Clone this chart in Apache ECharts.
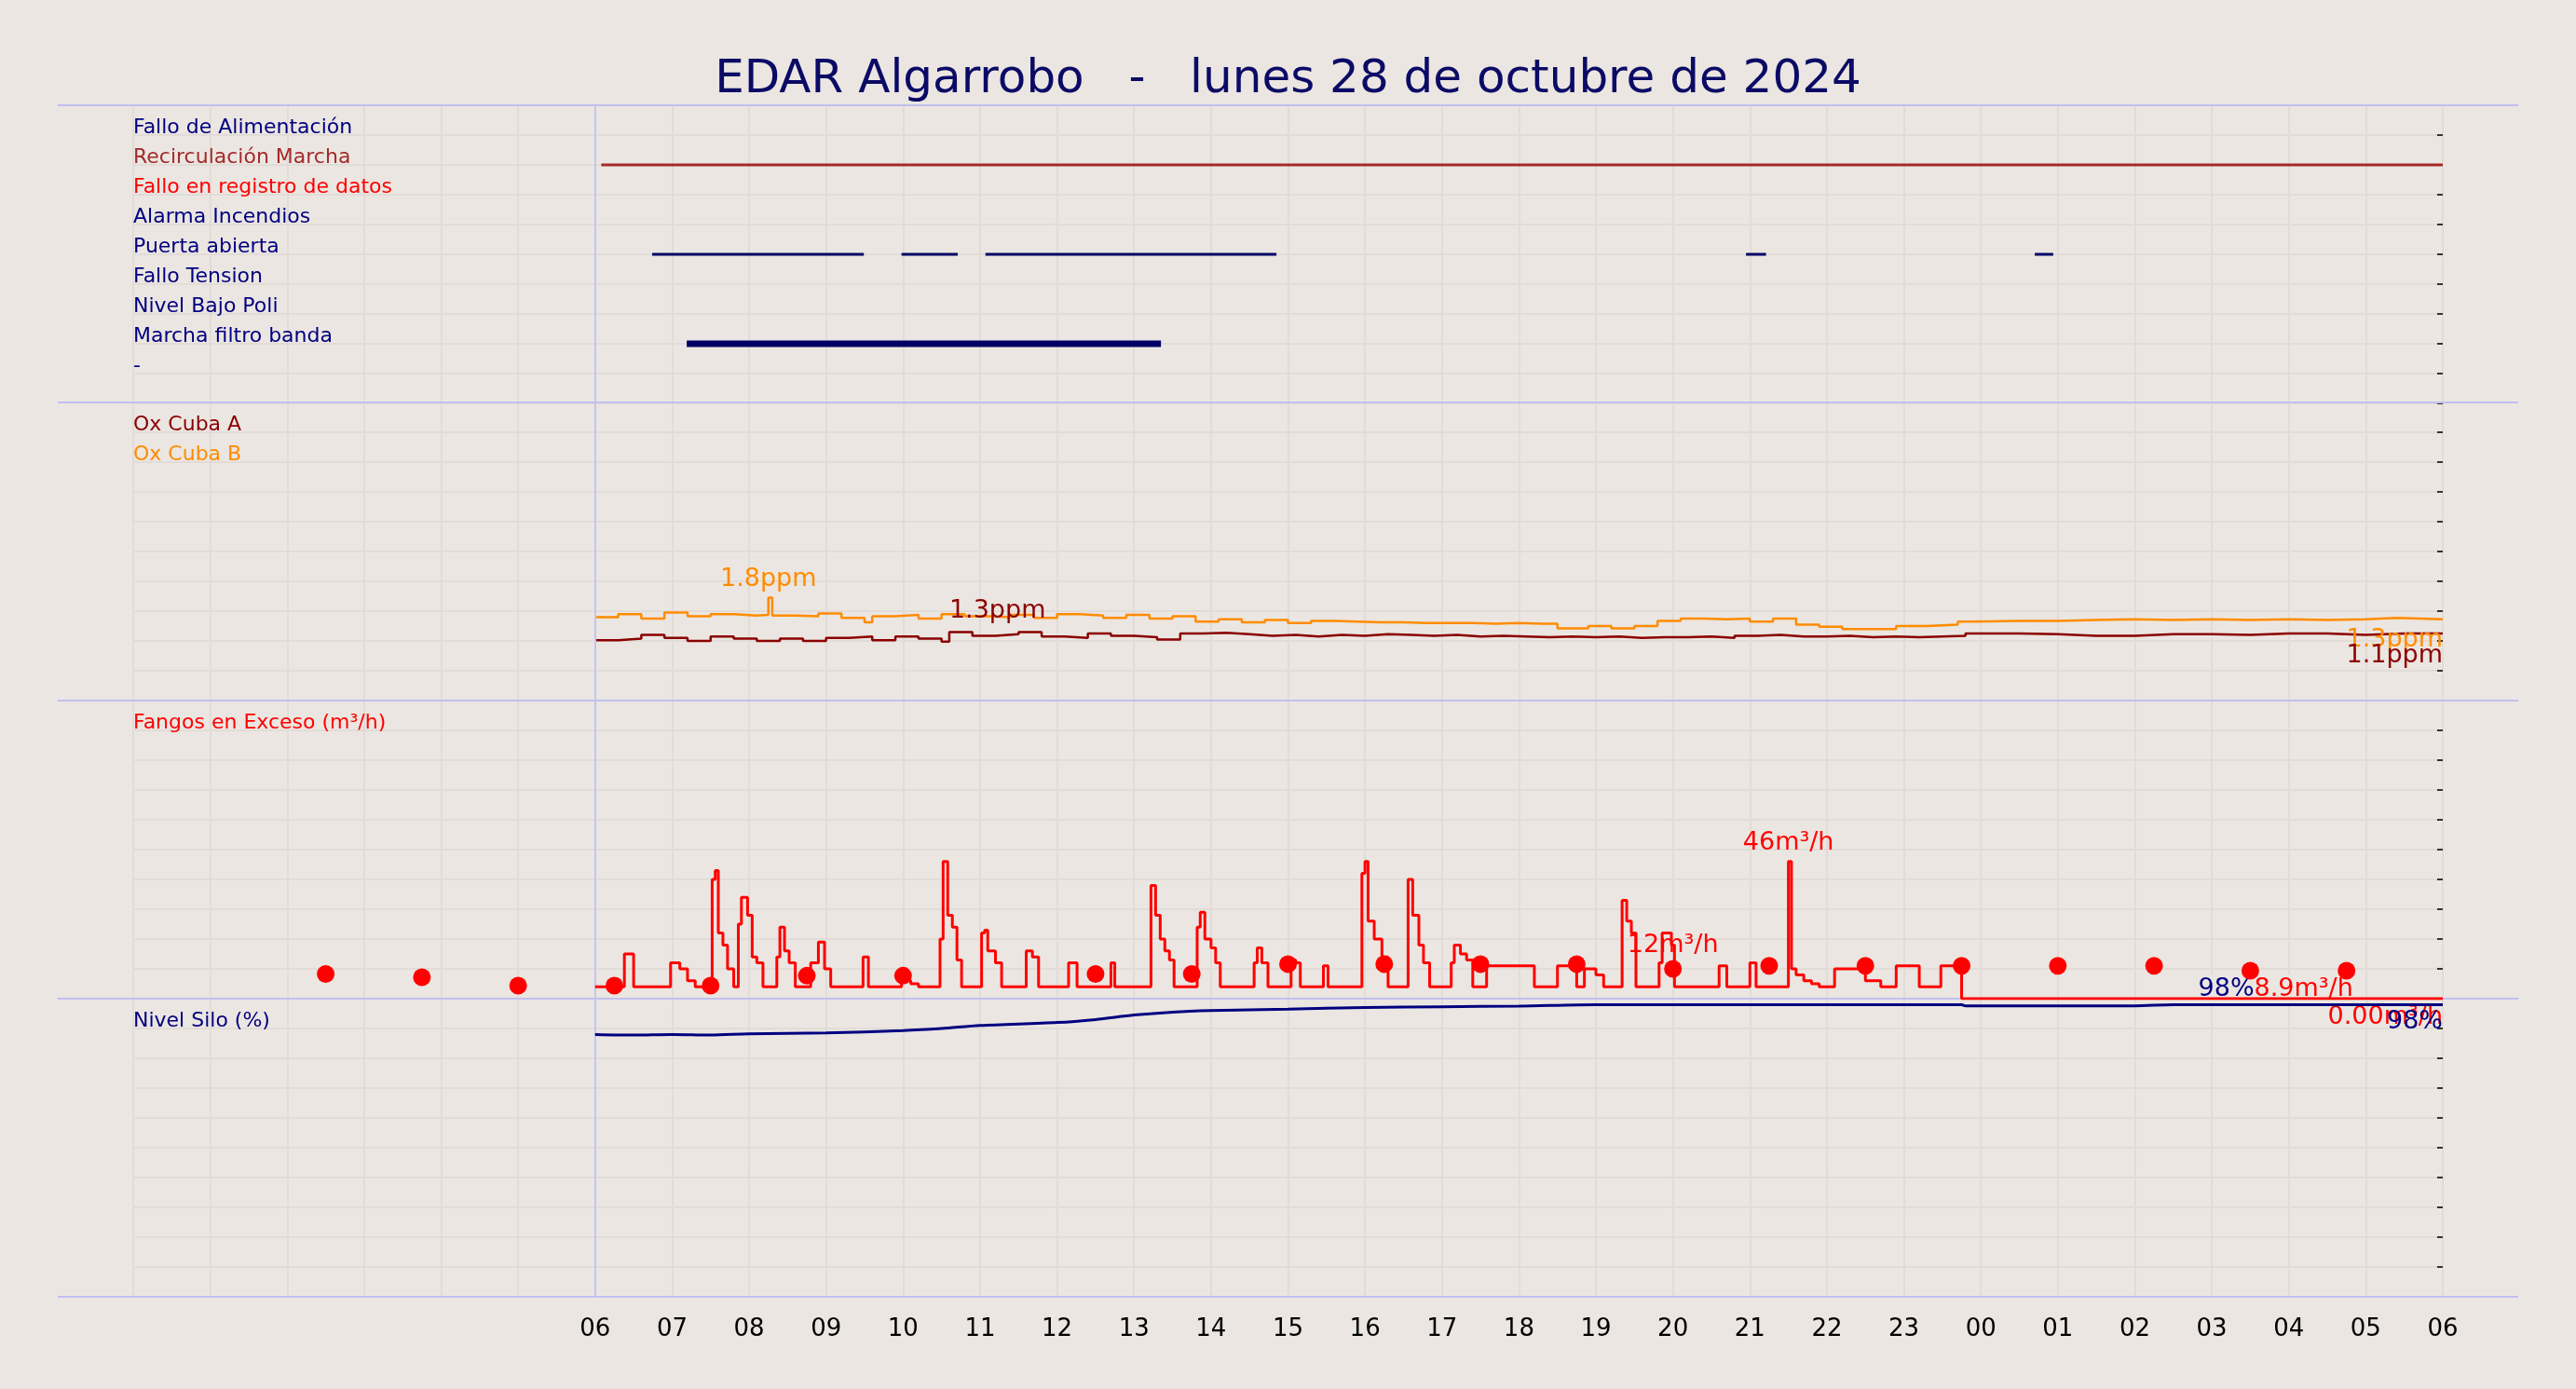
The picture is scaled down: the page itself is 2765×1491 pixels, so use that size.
<!DOCTYPE html>
<html><head><meta charset="utf-8">
<script src="https://cdn.jsdelivr.net/npm/echarts@6/dist/echarts.min.js"></script>
<style>html,body{margin:0;padding:0;background:#ebe6e1;}#c{width:2765px;height:1491px;}</style>
</head><body><div id="c"></div>
<script>
const title = 'EDAR Algarrobo   -   lunes 28 de octubre de 2024';
const signalNames = ['Fallo de Alimentación','Recirculación Marcha','Fallo en registro de datos','Alarma Incendios','Puerta abierta','Fallo Tension','Nivel Bajo Poli','Marcha filtro banda','-'];
const signalColors = ['#000080','#a52a2a','#ff0000','#000080','#000080','#000080','#000080','#000080','#000080'];
const recirculacion = [[6.08,30]];
const puertaAbierta = [[6.74,9.49],[9.98,10.71],[11.07,14.85],[20.95,21.21],[24.70,24.94]];
const filtroBanda = [[7.19,13.35]];

const oxB = [[6.0,1.32],[6.3,1.36],[6.6,1.30],[6.9,1.38],[7.2,1.33],[7.5,1.36],[7.8,1.34],[8.1,1.35],[8.25,1.58],[8.3,1.34],[8.6,1.33],[8.9,1.37],[9.2,1.31],[9.5,1.25],[9.6,1.33],[9.9,1.35],[10.2,1.30],[10.5,1.36],[10.8,1.33],[11.1,1.32],[11.4,1.35],[11.7,1.31],[12.0,1.36],[12.3,1.34],[12.6,1.31],[12.9,1.35],[13.2,1.30],[13.5,1.33],[13.8,1.26],[14.1,1.29],[14.4,1.25],[14.7,1.28],[15.0,1.24],[15.3,1.27],[15.6,1.26],[15.9,1.25],[16.2,1.25],[16.5,1.24],[16.8,1.24],[17.1,1.24],[17.4,1.23],[17.7,1.24],[18.0,1.23],[18.3,1.23],[18.5,1.17],[18.9,1.20],[19.2,1.17],[19.5,1.20],[19.8,1.27],[20.1,1.30],[20.4,1.29],[20.7,1.30],[21.0,1.26],[21.3,1.30],[21.6,1.22],[21.9,1.19],[22.2,1.16],[22.6,1.16],[22.9,1.20],[23.3,1.22],[23.7,1.26],[23.9,1.27],[24.5,1.27],[25.0,1.28],[25.5,1.29],[26.0,1.28],[26.5,1.29],[27.0,1.28],[27.5,1.29],[28.0,1.28],[28.5,1.29],[29.0,1.31],[29.4,1.29],[30,1.29]];
const oxA = [[6.0,1.01],[6.3,1.03],[6.6,1.08],[6.9,1.04],[7.2,1.00],[7.5,1.06],[7.8,1.03],[8.1,1.00],[8.4,1.03],[8.7,1.00],[9.0,1.04],[9.3,1.06],[9.6,1.01],[9.9,1.06],[10.2,1.03],[10.5,0.99],[10.6,1.12],[10.9,1.07],[11.2,1.09],[11.5,1.12],[11.8,1.06],[12.1,1.04],[12.4,1.10],[12.7,1.07],[13.0,1.05],[13.3,1.02],[13.6,1.10],[13.9,1.11],[14.2,1.09],[14.5,1.07],[14.8,1.08],[15.1,1.06],[15.4,1.08],[15.7,1.07],[16.0,1.09],[16.3,1.08],[16.6,1.07],[16.9,1.08],[17.2,1.06],[17.5,1.07],[17.8,1.06],[18.1,1.05],[18.4,1.06],[18.7,1.05],[19.0,1.06],[19.3,1.04],[19.6,1.05],[19.9,1.05],[20.2,1.06],[20.5,1.04],[20.8,1.07],[21.1,1.08],[21.4,1.06],[21.7,1.06],[22.0,1.07],[22.3,1.05],[22.6,1.06],[22.9,1.05],[23.2,1.06],[23.5,1.07],[23.8,1.10],[24.1,1.10],[24.5,1.09],[25.0,1.07],[25.5,1.07],[26.0,1.09],[26.5,1.09],[27.0,1.08],[27.5,1.10],[28.0,1.10],[28.5,1.08],[29.0,1.10],[29.5,1.10],[30,1.10]];

const fangos = [[6.0,4],[6.38,15],[6.5,4],[6.98,12],[7.1,10],[7.2,6],[7.3,4],[7.52,40],[7.56,43],[7.6,22],[7.66,18],[7.72,10],[7.8,4],[7.86,25],[7.9,34],[7.98,28],[8.04,14],[8.1,12],[8.18,4],[8.36,14],[8.4,24],[8.46,16],[8.52,12],[8.6,4],[8.8,12],[8.9,19],[8.98,10],[9.06,4],[9.48,14],[9.55,4],[9.98,10],[10.02,6],[10.1,5],[10.2,4],[10.48,20],[10.52,46],[10.58,28],[10.64,24],[10.7,13],[10.76,4],[11.02,22],[11.06,23],[11.1,16],[11.2,12],[11.28,4],[11.6,16],[11.68,14],[11.76,4],[12.15,12],[12.26,4],[12.7,12],[12.75,4],[13.22,38],[13.28,28],[13.34,20],[13.4,16],[13.46,13],[13.52,4],[13.82,24],[13.86,29],[13.92,20],[14.0,17],[14.06,12],[14.12,4],[14.56,12],[14.6,17],[14.66,12],[14.74,4],[15.04,13],[15.1,12],[15.16,4],[15.46,11],[15.52,4],[15.96,42],[16.0,46],[16.04,26],[16.12,20],[16.22,14],[16.3,4],[16.56,40],[16.62,28],[16.7,18],[16.76,12],[16.84,4],[17.12,12],[17.16,18],[17.24,15],[17.32,13],[17.4,4],[17.58,11],[18.2,4],[18.5,11],[18.75,4],[18.85,10],[19.0,8],[19.1,4],[19.34,33],[19.4,26],[19.46,22],[19.52,4],[19.82,12],[19.86,22],[19.98,18],[20.02,4],[20.6,11],[20.7,4],[21.0,12],[21.08,4],[21.5,46],[21.54,10],[21.6,8],[21.7,6],[21.8,5],[21.9,4],[22.1,10],[22.5,6],[22.7,4],[22.9,11],[23.2,4],[23.48,11],[23.72,9],[23.75,0],[30,0]];
const fangosAvg = [[2.5,8.3],[3.75,7.2],[5,4.4],[6.25,4.4],[7.5,4.4],[8.75,7.7],[10,7.7],[12.5,8.3],[13.75,8.3],[15,11.6],[16.25,11.6],[17.5,11.6],[18.75,11.6],[20,10],[21.25,11],[22.5,11],[23.75,11],[25,11],[26.25,11],[27.5,9.4],[28.75,9.4]];
const silo = [[6,88],[6.5,87.8],[7,88],[7.5,87.8],[8,88.2],[9,88.5],[10,89.3],[10.5,90],[11,91],[12,92],[12.5,93],[13,94.5],[13.5,95.5],[14,96],[15,96.5],[16,97],[17,97.3],[18,97.5],[19,98],[23.75,98],[23.8,97.6],[26,97.6],[26.5,98],[30,98]];
const panelLabels = [signalNames, ['Ox Cuba A','Ox Cuba B'], ['Fangos en Exceso (m³/h)'], ['Nivel Silo (%)']];
const panelLabelColors = [signalColors, ['#8b0000','#ff8c00'], ['#ff0000'], ['#000080']];
const yRanges = [[0,10,1],[0.2,4.2,0.4],[0,100,10],[0,100,10]];

const F = 'DejaVu Sans';
const tops = [113,432,752,1072];
const grid = tops.map(t => ({left:143, right:143, top:t, height:320}));
const gridLine = {show:true, lineStyle:{color:'#e2dcd9', width:2}};
const xAxis = tops.map((t,i) => ({type:'value', gridIndex:i, min:0, max:30, interval:1,
  axisLine:{show:false}, axisTick:{show:false}, splitLine:gridLine,
  axisLabel: i===3 ? {show:true, fontFamily:F, fontSize:26, color:'#000', margin:22,
     formatter: v => v>=6 ? String(v%24).padStart(2,'0') : ''} : {show:false}}));
const yAxis = [];
tops.forEach((t,i) => {
  const [mn,mx,iv] = yRanges[i];
  const names = panelLabels[i], cols = panelLabelColors[i];
  const rich = {}; names.forEach((n,k)=>{rich['c'+k]={color:cols[k], fontFamily:F, fontSize:22};});
  yAxis.push({type:'value', gridIndex:i, min:mn, max:mx, interval:iv, position:'left',
    axisLine:{show:false}, axisTick:{show:false}, splitLine:gridLine,
    axisLabel:{inside:true, margin:0, verticalAlign:'bottom', align:'left', padding:[0,0,-3,0], rich,
      formatter:(v,idx)=>{const k=9-idx; return (k>=0&&k<names.length)?('{c'+k+'|'+names[k]+'}'):'';}}});
  yAxis.push({type:'value', gridIndex:i, min:mn, max:mx, interval:iv, position:'right',
    axisLine:{show:false}, axisTick:{show:true, inside:true, length:6, lineStyle:{color:'#333',width:2}},
    axisLabel:{show:false}, splitLine:{show:false}});
});
const vLine = {silent:true, symbol:'none', label:{show:false}, lineStyle:{color:'#c4c4f2', width:2, type:'solid'}, data:[{xAxis:6}]};
const series = [];
recirculacion.forEach(s => series.push({type:'line', xAxisIndex:0, yAxisIndex:0, data:[[s[0],8],[s[1],8]], symbol:'none', lineStyle:{color:'#a52a2a', width:3}, markLine:vLine}));
puertaAbierta.forEach(s => series.push({type:'line', xAxisIndex:0, yAxisIndex:0, data:[[s[0],5],[s[1],5]], symbol:'none', lineStyle:{color:'#000066', width:3}}));
filtroBanda.forEach(s => series.push({type:'line', xAxisIndex:0, yAxisIndex:0, data:[[s[0],2],[s[1],2]], symbol:'none', lineStyle:{color:'#000066', width:7}}));
const lab = (txt,color,extra) => Object.assign({show:true, formatter:txt, color, fontFamily:F, fontSize:27}, extra||{});
series.push({type:'line', xAxisIndex:1, yAxisIndex:2, data:oxB, step:'end', symbol:'none', lineStyle:{color:'#ff8c00', width:2.5}, markLine:vLine,
  markPoint:{symbol:'circle', symbolSize:0, data:[
    {coord:[8.25,1.58], label:lab('1.8ppm','#ff8c00',{position:'top', distance:6})},
    {coord:[30,1.29], label:lab('1.3ppm','#ff8c00',{position:'inside', align:'right', offset:[0,22]})}]}});
series.push({type:'line', xAxisIndex:1, yAxisIndex:2, data:oxA, step:'end', symbol:'none', lineStyle:{color:'#8b0000', width:2.5},
  markPoint:{symbol:'circle', symbolSize:0, data:[
    {coord:[10.6,1.12], label:lab('1.3ppm','#8b0000',{position:'inside', align:'left', offset:[0,-22]})},
    {coord:[30,1.10], label:lab('1.1ppm','#8b0000',{position:'inside', align:'right', offset:[0,24]})}]}});
series.push({type:'line', xAxisIndex:2, yAxisIndex:4, data:fangos, step:'end', symbol:'none', lineStyle:{color:'#ff0000', width:3}, markLine:vLine, z:6,
  markPoint:{symbol:'circle', symbolSize:0, data:[
    {coord:[21.5,46], label:lab('46m³/h','#ff0000',{position:'top', distance:6})},
    {coord:[20,10], label:lab('12m³/h','#ff0000',{position:'top', distance:12})},
    {coord:[27.55,0], label:lab('8.9m³/h','#ff0000',{position:'inside', align:'left', offset:[0,-10], backgroundColor:'#ebe6e1', padding:[2,2,2,0]})},
    {coord:[30,0], label:lab('0.00m³/h','#ff0000',{position:'inside', align:'right', offset:[0,20]})}]}});
series.push({type:'scatter', xAxisIndex:2, yAxisIndex:4, data:fangosAvg, symbolSize:19, itemStyle:{color:'#ff0000', opacity:1}, z:7});
series.push({type:'line', xAxisIndex:3, yAxisIndex:6, data:silo, smooth:0.3, symbol:'none', lineStyle:{color:'#000080', width:3}, markLine:vLine, z:8,
  markPoint:{symbol:'circle', symbolSize:0, data:[
    {coord:[27.55,98], label:lab('98%','#000080',{position:'inside', align:'right', offset:[0,-16], backgroundColor:'#ebe6e1', padding:[2,0,2,2]})},
    {coord:[30,98], label:lab('98%','#000080',{position:'inside', align:'right', offset:[0,19]})}]}});
const hl = tops.concat([1392]).map(y => ({type:'line', z:1, silent:true, shape:{x1:62,y1:y,x2:2703,y2:y}, style:{stroke:'#c0c0f0', lineWidth:2}}));
const chart = echarts.init(document.getElementById('c'));
chart.setOption({
  backgroundColor:'#ebe6e1', animation:false,
  title:{text:title, left:'center', top:56, textStyle:{fontFamily:F, fontSize:50, fontWeight:'normal', color:'#0b0b66'}},
  grid, xAxis, yAxis, series, graphic:hl
});
</script></body></html>
